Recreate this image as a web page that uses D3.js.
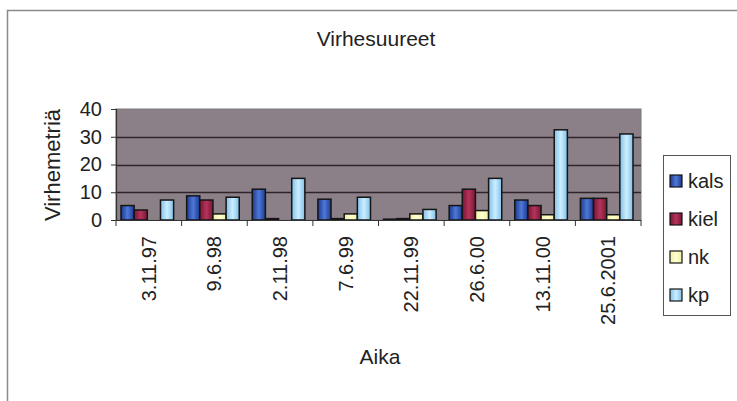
<!DOCTYPE html>
<html>
<head>
<meta charset="utf-8">
<script src="https://cdn.jsdelivr.net/npm/d3@7"></script>
<style>
  html, body { margin: 0; padding: 0; background: #fff; }
  svg { display: block; font-family: "Liberation Sans", Arial, sans-serif; }
</style>
</head>
<body>
<svg id="chart" width="737" height="401"></svg>
<script>
// Measurement dates (categories)
const dates = ["3.11.97", "9.6.98", "2.11.98", "7.6.99", "22.11.99", "26.6.00", "13.11.00", "25.6.2001"];

// Error metrics per date
const kals = [5.2, 8.7, 11.1, 7.5, 0.3, 5.2, 7.2, 7.8];
const kiel = [3.6, 7.2, 0.5, 0.5, 0.5, 11.1, 5.2, 7.8];
const nk   = [0.0, 2.2, 0.0, 2.2, 2.2, 3.4, 1.9, 1.9];
const kp   = [7.2, 8.2, 15.0, 8.2, 3.8, 15.0, 32.5, 31.0];

const seriesNames = ["kals", "kiel", "nk", "kp"];
const seriesValues = [kals, kiel, nk, kp];
const yTicks = [0, 10, 20, 30, 40];

const colors = {
  kals: ["#1c3a8c", "#4f78d8"],
  kiel: ["#7a1533", "#b3345a"],
  nk:   ["#f2f0a0", "#ffffd2"],
  kp:   ["#7fc0ea", "#cdeeff"]
};

const svg = d3.select("#chart");
const W = 737, H = 401;
const plot = { left: 116, right: 641, top: 109, bottom: 220 };

svg.append("rect").attr("width", W).attr("height", H).attr("fill", "#fff");

// Chart frame (runs off the right and bottom edges)
svg.append("path")
  .attr("d", `M7.5,${H} V10.5 H${W}`)
  .attr("fill", "none").attr("stroke", "#8a8a8a").attr("stroke-width", 1.5);

// Gradients for the bar fills
const defs = svg.append("defs");
seriesNames.forEach(s => {
  const g = defs.append("linearGradient").attr("id", "g-" + s)
    .attr("x1", "0").attr("x2", "1").attr("y1", "0").attr("y2", "0");
  g.append("stop").attr("offset", "0").attr("stop-color", colors[s][0]);
  g.append("stop").attr("offset", "0.5").attr("stop-color", colors[s][1]);
  g.append("stop").attr("offset", "1").attr("stop-color", colors[s][0]);
});

const x0 = d3.scaleBand().domain(dates).range([plot.left, plot.right]).paddingInner(0).paddingOuter(0);
const x1 = d3.scaleBand().domain(seriesNames).range([5, x0.bandwidth() - 8]).padding(0);
const y = d3.scaleLinear().domain([0, 40]).range([plot.bottom, plot.top]);

// Plot area
svg.append("rect")
  .attr("x", plot.left).attr("y", plot.top)
  .attr("width", plot.right - plot.left).attr("height", plot.bottom - plot.top)
  .attr("fill", "#8c8088").attr("stroke", "#7a7a7a").attr("stroke-width", 1);

// Gridlines
svg.append("g").selectAll("line")
  .data(yTicks.filter(t => t > 0 && t < 40))
  .join("line")
  .attr("x1", plot.left).attr("x2", plot.right)
  .attr("y1", d => Math.round(y(d)) + 0.5).attr("y2", d => Math.round(y(d)) + 0.5)
  .attr("stroke", "#2f2529").attr("stroke-width", 1.5);

// Bars
const groups = svg.append("g").selectAll("g")
  .data(dates)
  .join("g")
  .attr("transform", d => `translate(${x0(d)},0)`);

groups.selectAll("rect")
  .data((d, i) => seriesNames.map((s, k) => ({ s, v: seriesValues[k][i] })))
  .join("rect")
  .filter(d => d.v > 0)
  .attr("x", d => x1(d.s))
  .attr("y", d => y(d.v))
  .attr("width", x1.bandwidth())
  .attr("height", d => y(0) - y(d.v))
  .attr("fill", d => `url(#g-${d.s})`)
  .attr("stroke", "#151515").attr("stroke-width", 1.5);

// Y axis
const yAxis = svg.append("g")
  .attr("transform", `translate(${plot.left},0)`)
  .call(d3.axisLeft(y).tickValues(yTicks).tickSize(5).tickPadding(9));
yAxis.select(".domain").attr("stroke", "#333").attr("stroke-width", 1.2);
yAxis.selectAll(".tick line").attr("stroke", "#333");
yAxis.selectAll("text")
  .attr("font-size", 20).attr("fill", "#222")
  .attr("font-family", "Liberation Sans, Arial, sans-serif");

// X axis: ticks at category boundaries
const xg = svg.append("g");
xg.append("line")
  .attr("x1", plot.left).attr("x2", plot.right)
  .attr("y1", plot.bottom + 0.5).attr("y2", plot.bottom + 0.5)
  .attr("stroke", "#333").attr("stroke-width", 1.2);
const bounds = dates.map(d => x0(d)).concat([x0(dates[dates.length - 1]) + x0.bandwidth()]);
xg.selectAll("line.tk")
  .data(bounds)
  .join("line").attr("class", "tk")
  .attr("x1", d => d).attr("x2", d => d)
  .attr("y1", plot.bottom).attr("y2", plot.bottom + 6)
  .attr("stroke", "#333");

xg.selectAll("text")
  .data(dates)
  .join("text")
  .attr("transform", d => `translate(${x0(d) + x0.bandwidth() / 2 + 7},236) rotate(-90)`)
  .attr("text-anchor", "end")
  .attr("font-size", 20).attr("fill", "#222")
  .text(d => d);

// Titles
svg.append("text")
  .attr("x", 376).attr("y", 46)
  .attr("text-anchor", "middle")
  .attr("font-size", 21).attr("fill", "#222")
  .text("Virhesuureet");

svg.append("text")
  .attr("transform", "translate(60,165) rotate(-90)")
  .attr("text-anchor", "middle")
  .attr("font-size", 22).attr("fill", "#222")
  .text("Virhemetriä");

svg.append("text")
  .attr("x", 380).attr("y", 364)
  .attr("text-anchor", "middle")
  .attr("font-size", 21).attr("fill", "#222")
  .text("Aika");

// Legend
const legend = svg.append("g");
legend.append("rect")
  .attr("x", 663.5).attr("y", 155.5).attr("width", 67).attr("height", 160)
  .attr("fill", "#fff").attr("stroke", "#555").attr("stroke-width", 1);

const legendY = d3.scalePoint().domain(seriesNames).range([181, 295]);
const items = legend.selectAll("g.item")
  .data(seriesNames)
  .join("g").attr("class", "item")
  .attr("transform", d => `translate(670,${legendY(d)})`);
items.append("rect")
  .attr("x", 0).attr("y", -6).attr("width", 12).attr("height", 12)
  .attr("fill", d => `url(#g-${d})`)
  .attr("stroke", "#151515").attr("stroke-width", 1.2);
items.append("text")
  .attr("x", 18).attr("y", 7)
  .attr("font-size", 20).attr("fill", "#222")
  .text(d => d);
</script>
</body>
</html>
